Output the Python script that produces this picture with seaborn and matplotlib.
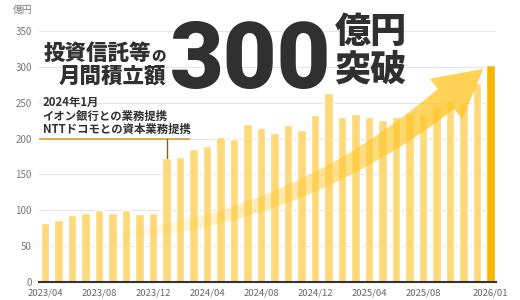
import numpy as np
import pandas as pd
import matplotlib
matplotlib.use("Agg")
import matplotlib.pyplot as plt
from matplotlib.patches import Polygon
import seaborn as sns

# ---------------- data ----------------
months = ["2023/04", "2023/05", "2023/06", "2023/07", "2023/08", "2023/09", "2023/10",
          "2023/11", "2023/12", "2024/01", "2024/02", "2024/03", "2024/04", "2024/05",
          "2024/06", "2024/07", "2024/08", "2024/09", "2024/10", "2024/11", "2024/12",
          "2025/01", "2025/02", "2025/03", "2025/04", "2025/05", "2025/06", "2025/07",
          "2025/08", "2025/09", "2025/10", "2025/11", "2025/12", "2026/01"]
values = [83, 87, 93, 96, 100, 97, 100, 95, 97, 173, 174, 186, 189, 202, 200, 220, 214,
          208, 219, 212, 233, 263, 230, 234, 230, 226, 230, 236, 234, 245, 252, 248, 277, 302]
tick_labels = ["2023/04", "2023/08", "2023/12", "2024/04", "2024/08", "2024/12",
               "2025/04", "2025/08", "2026/01"]
y_ticks = [0, 50, 100, 150, 200, 250, 300, 350]
highlight_month = "2026/01"
note_month = "2024/01"
note_level = 200
note_lines = ["2024年1月", "イオン銀行との業務提携", "NTTドコモとの資本業務提携"]

LIGHT = "#FDD979"
DARK = "#F7B500"
TXT = "#303030"

sns.set_style("white")
plt.rcParams["font.family"] = ["Noto Sans CJK JP", "DejaVu Sans"]

W, H = 520, 300
fig = plt.figure(figsize=(W / 100, H / 100), dpi=100)


def px(x, y):
    return x / W, 1 - y / H


ax_l, ax_r, ax_b, ax_t = 38.7, 496.0, 282.3, 30.7
ax = fig.add_axes([ax_l / W, 1 - ax_b / H, (ax_r - ax_l) / W, (ax_b - ax_t) / H])

df = pd.DataFrame({"month": months, "value": values})
palette = {m: (DARK if m == highlight_month else LIGHT) for m in months}
sns.barplot(data=df, x="month", y="value", hue="month", palette=palette, legend=False,
            width=0.64, saturation=1, ax=ax, zorder=2)

ax.set_xlim(-0.467, 33.4)
ax.set_ylim(0, 350)
ax.set_yticks(y_ticks)
ax.set_yticklabels([str(v) for v in y_ticks])
pos = [months.index(m) for m in tick_labels]
ax.set_xticks(pos)
ax.set_xticklabels(tick_labels)
ax.set_xlabel("")
ax.set_ylabel("")
ax.tick_params(axis="y", length=0, pad=5, labelsize=7, labelcolor="#777777")
ax.tick_params(axis="x", length=0, pad=4.5, labelsize=6.8, labelcolor="#666666")
ax.yaxis.grid(True, color="#E6E6E6", lw=0.8)
ax.xaxis.grid(False)
ax.set_axisbelow(True)
for s in ["left", "right", "top"]:
    ax.spines[s].set_visible(False)
ax.spines["bottom"].set_color("#333333")
ax.spines["bottom"].set_linewidth(1.5)
ax.spines["bottom"].set_zorder(5)

# annotation lines
ni = months.index(note_month)
ax.plot([-0.45, 10.75], [note_level, note_level], color="#D9AE48", lw=1.4,
        zorder=4, clip_on=False, solid_capstyle="butt")
ax.plot([ni, ni], [note_level, values[ni]], color="#7D6320", lw=1.0, zorder=4)

# ---------------- arrow overlay (decoration) ----------------
ov = fig.add_axes([0, 0, 1, 1])
ov.set_xlim(0, W)
ov.set_ylim(H, 0)
ov.axis("off")
ov.patch.set_alpha(0)

P0 = np.array([100.0, 237.0])
P1 = np.array([290.0, 225.0])
P2 = np.array([446.0, 99.0])
t = np.linspace(0, 1, 120)[:, None]
curve = (1 - t) ** 2 * P0 + 2 * (1 - t) * t * P1 + t ** 2 * P2
deriv = 2 * (1 - t) * (P1 - P0) + 2 * t * (P2 - P1)
d = deriv / np.linalg.norm(deriv, axis=1, keepdims=True)
n = np.column_stack([-d[:, 1], d[:, 0]])
wid = (6 + 20 * t[:, 0])[:, None]
upper = curve - wid / 2 * n
lower = curve + wid / 2 * n
dend = d[-1]
nend = n[-1]
base = curve[-1]
tip = base + 48 * dend
w_up = base - 26 * nend
w_lo = base + 26 * nend
pts = np.vstack([upper, w_up, tip, w_lo, lower[::-1]])
poly = Polygon(pts, closed=True, facecolor="none", edgecolor="none", transform=ov.transData)
ov.add_patch(poly)

xs = np.arange(W) + 0.5
alpha = 0.8 * np.clip((xs - 95) / (445 - 95), 0, 1) ** 1.1
img = np.zeros((H, W, 4))
img[..., 0] = 1.0
img[..., 1] = 0xC6 / 255
img[..., 2] = 0x2A / 255
img[..., 3] = alpha[None, :]
im = ov.imshow(img, extent=(0, W, H, 0), origin="upper", aspect="auto",
               interpolation="bilinear")
im.set_clip_path(poly)
ov.set_xlim(0, W)
ov.set_ylim(H, 0)

# ---------------- texts ----------------
fig.text(*px(23, 10), "億円", ha="center", va="center", fontsize=7, color="#777777")

fig.text(*px(151, 60.2), "投資信託等", ha="right", va="baseline", fontsize=15.5,
         fontweight="black", color=TXT)
fig.text(*px(151.5, 60.2), "の", ha="left", va="baseline", fontsize=10.5,
         fontweight="black", color=TXT)
fig.text(*px(166, 82.5), "月間積立額", ha="right", va="baseline", fontsize=15.5,
         fontweight="black", color=TXT)

fig.text(*px(251, 87.5), "300", ha="center", va="baseline", fontsize=67,
         family=["Roboto", "DejaVu Sans"], fontweight="black", color=TXT)
fig.text(*px(334.5, 42.5), "億円", ha="left", va="baseline", fontsize=26,
         fontweight="black", color=TXT)
fig.text(*px(334.5, 80.5), "突破", ha="left", va="baseline", fontsize=26,
         fontweight="black", color=TXT)

for line, yy in zip(note_lines, [102, 116.7, 129.5]):
    fig.text(*px(42.5, yy), line, ha="left", va="center", fontsize=8.2,
             fontweight="bold", color=TXT)

fig.savefig("out.png", dpi=100)
